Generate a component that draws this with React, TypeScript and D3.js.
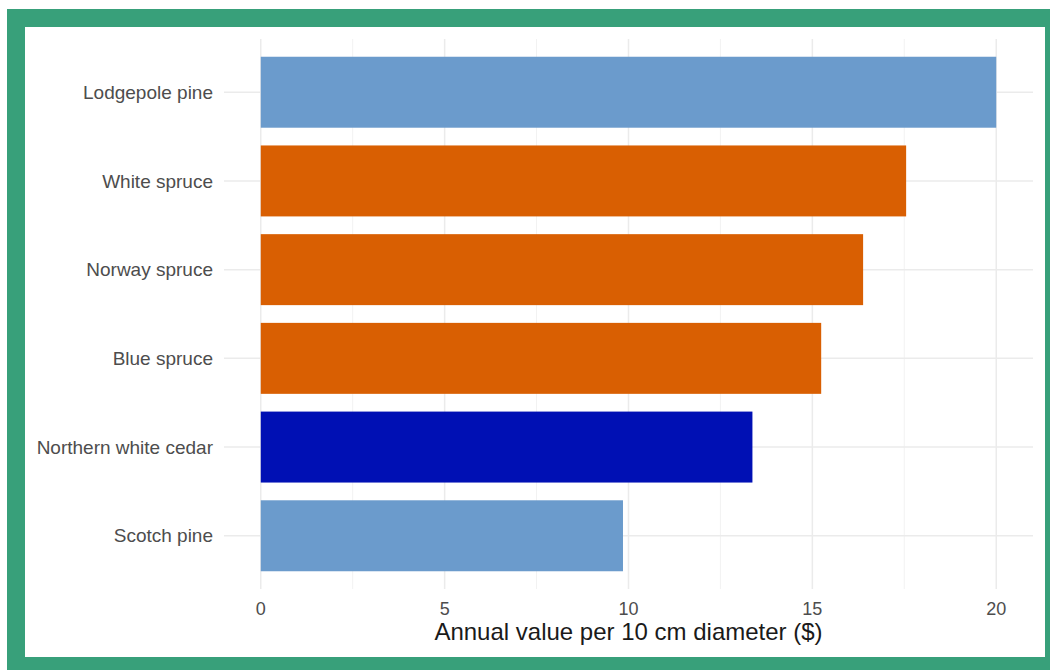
import React from "react";
import * as d3 from "d3";

const categories = [
  "Lodgepole pine",
  "White spruce",
  "Norway spruce",
  "Blue spruce",
  "Northern white cedar",
  "Scotch pine",
];
const values = [20.0, 17.55, 16.38, 15.24, 13.37, 9.85];
const groups = ["light", "orange", "orange", "orange", "dark", "light"];
const groupColors: Record<string, string> = {
  light: "#6b9bcc",
  orange: "#d95f02",
  dark: "#0010b4",
};
const majorTicks = [0, 5, 10, 15, 20];
const minorTicks = [2.5, 7.5, 12.5, 17.5];
const xTitle = "Annual value per 10 cm diameter ($)";

export default function App() {
  const W = 1050;
  const H = 670;
  const panel = { left: 224, right: 1033, top: 39, bottom: 589 };
  const x = d3.scaleLinear().domain([-1, 21]).range([panel.left, panel.right]);
  const y = d3
    .scaleBand()
    .domain(categories)
    .range([panel.top, panel.bottom])
    .paddingInner(0.2)
    .paddingOuter(0.2);
  const font = "Liberation Sans, Arial, sans-serif";
  return (
    <svg
      width={W}
      height={H}
      style={{ position: "absolute", left: 0, top: 0 }}
    >
      <rect x={7} y={9} width={1043} height={661} fill="#38a07a" />
      <rect x={25} y={27} width={1020} height={630} fill="#ffffff" />
      {minorTicks.map((t) => (
        <line
          key={"mi" + t}
          x1={x(t)}
          x2={x(t)}
          y1={panel.top}
          y2={panel.bottom}
          stroke="#f2f2f2"
          strokeWidth={1}
        />
      ))}
      {majorTicks.map((t) => (
        <line
          key={"ma" + t}
          x1={x(t)}
          x2={x(t)}
          y1={panel.top}
          y2={panel.bottom}
          stroke="#ebebeb"
          strokeWidth={1.5}
        />
      ))}
      {categories.map((c) => (
        <line
          key={"hg" + c}
          x1={panel.left}
          x2={panel.right}
          y1={(y(c) as number) + y.bandwidth() / 2}
          y2={(y(c) as number) + y.bandwidth() / 2}
          stroke="#ebebeb"
          strokeWidth={1.5}
        />
      ))}
      {categories.map((c, i) => (
        <rect
          key={"b" + c}
          x={x(0)}
          y={y(c) as number}
          width={x(values[i]) - x(0)}
          height={y.bandwidth()}
          fill={groupColors[groups[i]]}
        />
      ))}
      {categories.map((c) => (
        <text
          key={"l" + c}
          x={213}
          y={(y(c) as number) + y.bandwidth() / 2}
          dy="0.35em"
          textAnchor="end"
          fontFamily={font}
          fontSize={19}
          fill="#4d4d4d"
        >
          {c}
        </text>
      ))}
      {majorTicks.map((t) => (
        <text
          key={"t" + t}
          x={x(t)}
          y={615}
          textAnchor="middle"
          fontFamily={font}
          fontSize={18}
          fill="#4d4d4d"
        >
          {t}
        </text>
      ))}
      <text
        x={(panel.left + panel.right) / 2}
        y={640}
        textAnchor="middle"
        fontFamily={font}
        fontSize={24}
        fill="#1a1a1a"
      >
        {xTitle}
      </text>
    </svg>
  );
}
